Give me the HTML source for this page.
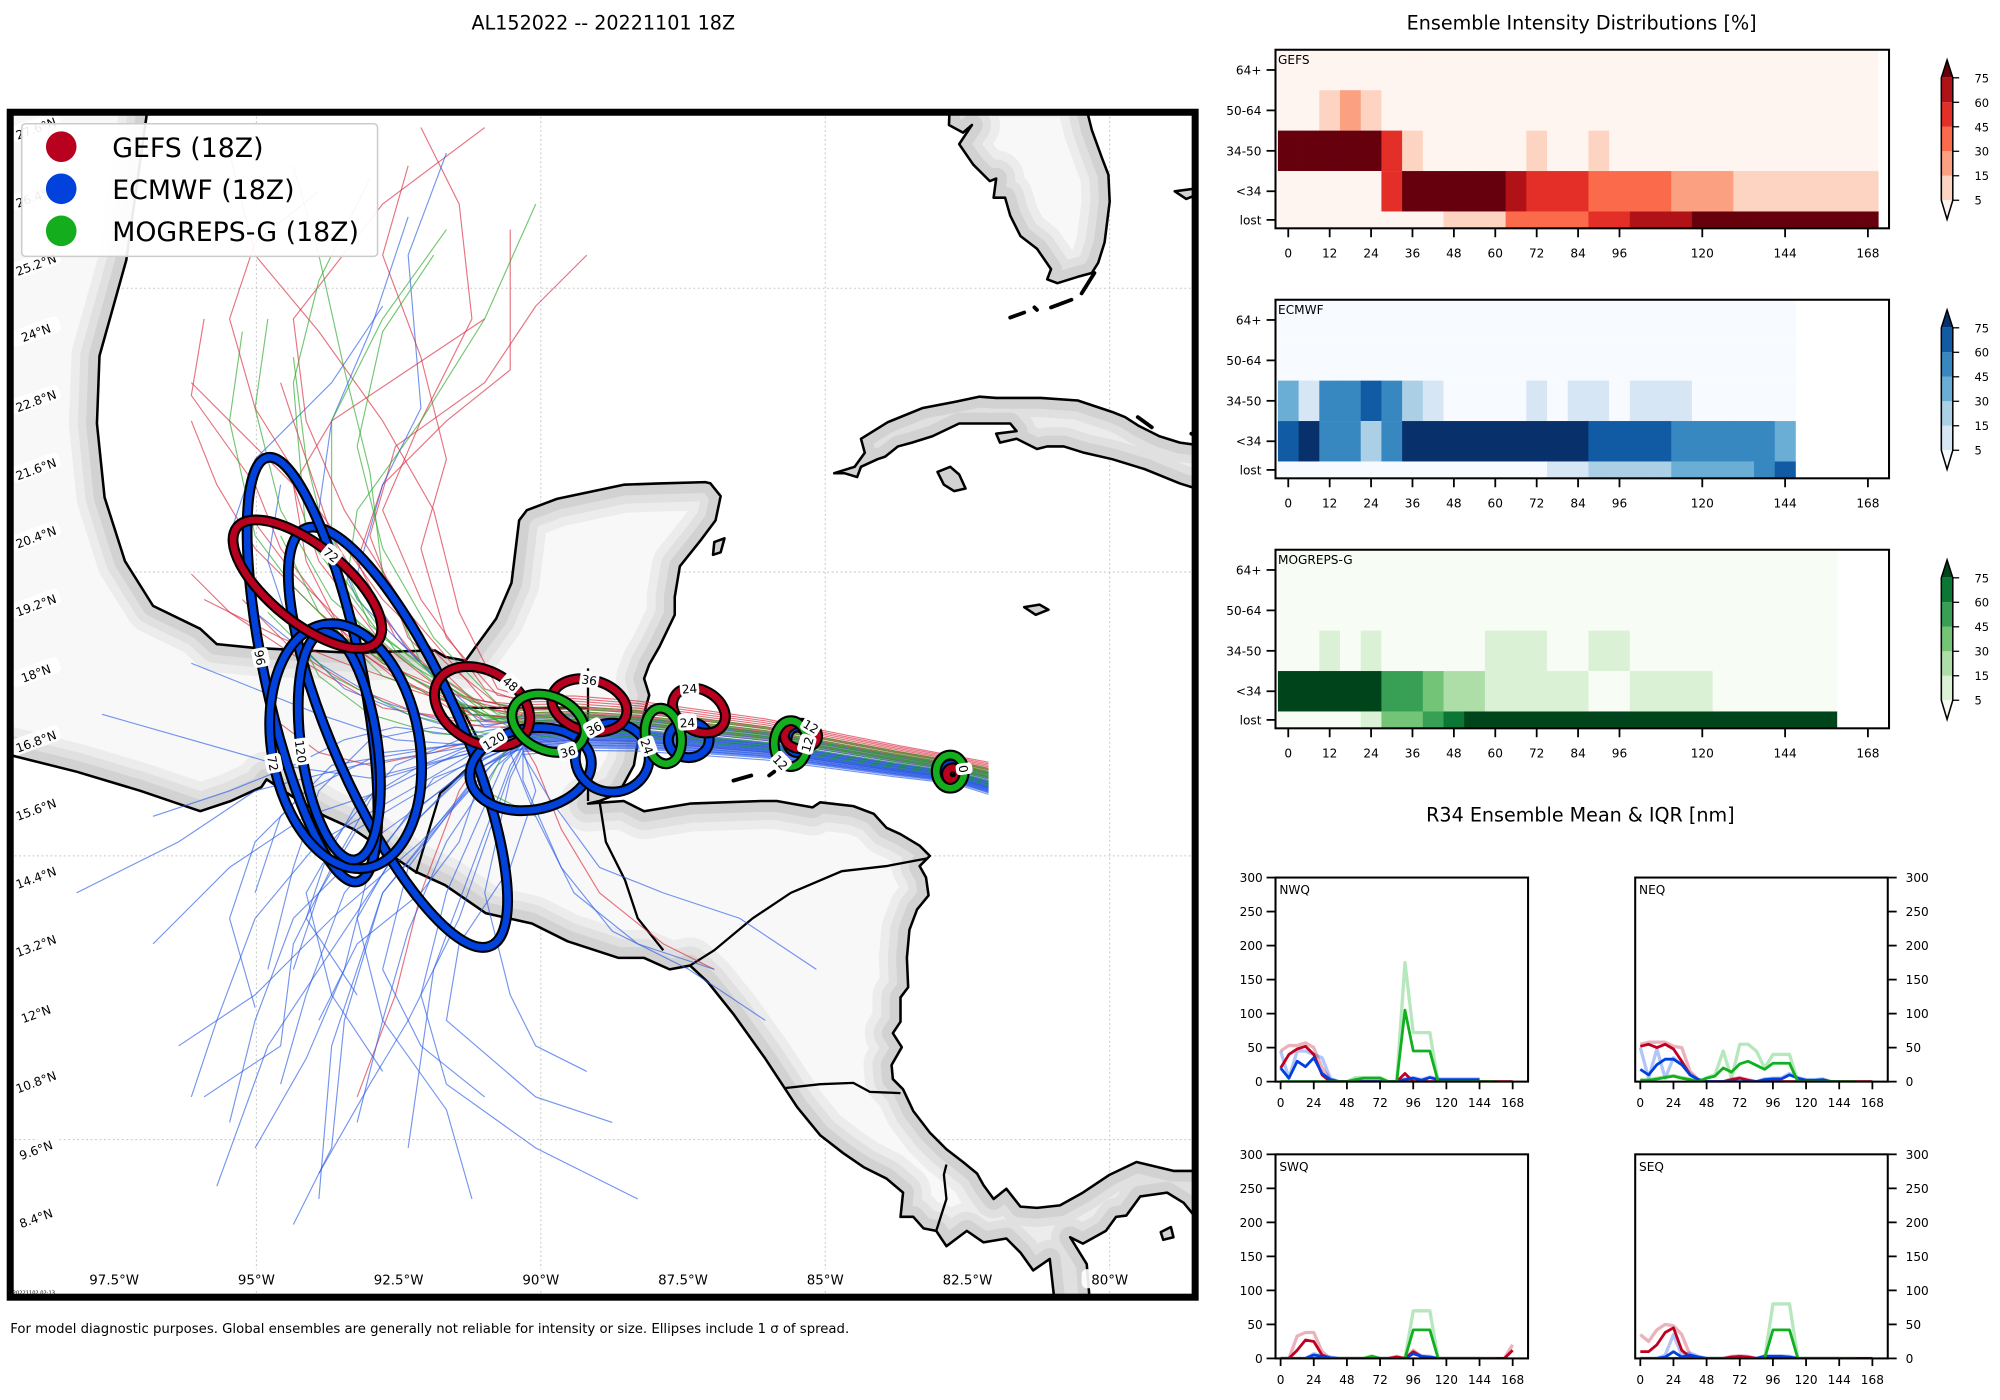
<!DOCTYPE html>
<html><head><meta charset="utf-8">
<style>
html,body{margin:0;padding:0;background:#fff;}
svg{display:block;}
text{font-family:"DejaVu Sans","Liberation Sans",sans-serif;}
</style></head>
<body>
<svg id="fig" width="2000" height="1400" viewBox="0 0 1568 1097.6" xmlns="http://www.w3.org/2000/svg">
<defs><clipPath id="mapclip"><rect x="8" y="88" width="929" height="929"/></clipPath></defs>
<rect x="0" y="0" width="1568" height="1097.6" fill="#fff"/>
<text x="473" y="23" font-size="15" text-anchor="middle">AL152022 -- 20221101 18Z</text>
<text x="1240" y="23" font-size="15" text-anchor="middle">Ensemble Intensity Distributions [%]</text>
<text x="1239" y="644" font-size="15" text-anchor="middle">R34 Ensemble Mean &amp; IQR [nm]</text>
<text x="8" y="1045" font-size="10.4">For model diagnostic purposes. Global ensembles are generally not reliable for intensity or size. Ellipses include 1 σ of spread.</text>
<g id="map"></g>
<g id="right"></g>
</svg>
<script>
// ---------------- DATA ----------------
const heatHours = [0,6,12,18,24,30,36,42,48,54,60,66,72,78,84,90,96,102,108,114,120,126,132,138,144,150,156,162,168];
const heatRowLabels = ['64+','50-64','34-50','<34','lost'];
const heatTickHours = [0,12,24,36,48,60,72,84,96,120,144,168];
const cbLevels = [5,15,30,45,60,75];
const gefs64 = [0,0,0,0,0,0,0,0,0,0,0,0,0,0,0,0,0,0,0,0,0,0,0,0,0,0,0,0,0];
const gefs50 = [0,0,10,20,10,0,0,0,0,0,0,0,0,0,0,0,0,0,0,0,0,0,0,0,0,0,0,0,0];
const gefs34 = [85,85,85,85,85,52,10,0,0,0,0,0,10,0,0,10,0,0,0,0,0,0,0,0,0,0,0,0,0];
const gefsLt = [0,0,0,0,0,52,85,85,85,85,85,68,52,52,52,38,38,38,38,20,20,20,10,10,10,10,10,10,10];
const gefsLost = [0,0,0,0,0,0,0,0,10,10,10,38,38,38,38,52,52,68,68,68,85,85,85,85,85,85,85,85,85];
const ecmwf64 = [0,0,0,0,0,0,0,0,0,0,0,0,0,0,0,0,0,0,0,0,0,0,0,0,0];
const ecmwf50 = [0,0,0,0,0,0,0,0,0,0,0,0,0,0,0,0,0,0,0,0,0,0,0,0,0];
const ecmwf34 = [38,10,52,52,68,52,20,10,0,0,0,0,10,0,10,10,0,10,10,10,0,0,0,0,0];
const ecmwfLt = [68,85,52,52,20,52,85,85,85,85,85,85,85,85,85,68,68,68,68,52,52,52,52,52,38];
const ecmwfLost = [0,0,0,0,0,0,0,0,0,0,0,0,0,10,10,20,20,20,20,38,38,38,38,52,68];
const mog64 = [0,0,0,0,0,0,0,0,0,0,0,0,0,0,0,0,0,0,0,0,0,0,0,0,0,0,0];
const mog50 = [0,0,0,0,0,0,0,0,0,0,0,0,0,0,0,0,0,0,0,0,0,0,0,0,0,0,0];
const mog34 = [0,0,10,0,10,0,0,0,0,0,10,10,10,0,0,10,10,0,0,0,0,0,0,0,0,0,0];
const mogLt = [85,85,85,85,85,52,52,38,20,20,10,10,10,10,10,0,0,10,10,10,10,0,0,0,0,0,0];
const mogLost = [0,0,0,0,10,38,38,52,68,85,85,85,85,85,85,85,85,85,85,85,85,85,85,85,85,85,85];

const r34Hours = heatHours;
const r34Ticks = [0,24,48,72,96,120,144,168];
const r34YTicks = [0,50,100,150,200,250,300];
const n=null;
const nwGefsMean=[20,40,48,52,40,10,0,0,0,0,0,0,0,0,0,12,0,0,0,0,0,0,0,0,0,0,0,0,0];
const nwGefsIqr =[45,53,53,57,50,20,3,0,0,0,0,0,0,0,0,3,0,0,0,0,0,0,0,0,0,0,0,0,0];
const nwEcMean  =[20,5,30,22,35,12,3,0,0,0,0,0,0,0,0,3,5,2,6,3,3,3,3,3,3,n,n,n,n];
const nwEcIqr   =[45,5,45,45,40,35,5,0,0,0,0,0,0,0,0,4,6,3,7,4,4,4,4,4,4,n,n,n,n];
const nwMoMean  =[0,0,0,0,0,0,0,0,0,3,5,5,5,0,0,105,45,45,45,0,0,0,0,0,0,0,0,n,n];
const nwMoIqr   =[0,0,0,0,0,0,0,0,0,6,6,6,6,0,0,175,72,72,72,0,0,0,0,0,0,0,0,n,n];
const neGefsMean=[52,55,50,55,48,30,10,3,0,0,0,3,5,2,0,0,0,0,0,0,0,0,0,0,0,0,0,0,0];
const neGefsIqr =[55,58,58,58,52,50,15,3,0,0,0,4,6,3,0,0,0,0,0,0,0,0,0,0,0,0,0,0,0];
const neEcMean  =[18,10,25,33,33,25,10,3,0,0,0,0,0,0,0,3,4,4,10,5,2,2,3,0,0,n,n,n,n];
const neEcIqr   =[50,5,48,5,35,25,12,3,0,0,0,0,0,0,0,4,5,5,12,6,3,3,4,0,0,n,n,n,n];
const neMoMean  =[2,2,4,6,8,5,3,0,5,8,20,14,26,30,24,18,27,27,27,0,0,0,0,0,0,0,0,n,n];
const neMoIqr   =[3,3,5,7,9,6,4,0,6,10,45,5,55,55,45,20,40,40,40,0,0,0,0,0,0,0,0,n,n];
const swGefsMean=[0,0,12,27,25,5,0,0,0,0,0,0,0,0,2,0,10,2,0,0,0,0,0,0,0,0,0,0,12];
const swGefsIqr =[0,0,33,38,38,10,0,0,0,0,0,0,0,0,3,0,12,3,0,0,0,0,0,0,0,0,0,0,20];
const swEcMean  =[0,0,0,0,5,3,1,0,0,0,0,0,0,0,0,0,7,3,2,0,0,0,0,0,0,n,n,n,n];
const swEcIqr   =[0,0,0,0,7,4,2,0,0,0,0,0,0,0,0,0,9,4,3,0,0,0,0,0,0,n,n,n,n];
const swMoMean  =[0,0,0,0,0,0,0,0,0,0,0,3,0,0,0,0,42,42,42,0,0,0,0,0,0,0,0,n,n];
const swMoIqr   =[0,0,0,0,0,0,0,0,0,0,0,4,0,0,0,0,70,70,70,0,0,0,0,0,0,0,0,n,n];
const seGefsMean=[10,10,20,38,45,12,2,0,0,0,0,2,3,2,0,0,0,0,0,0,0,0,0,0,0,0,0,0,0];
const seGefsIqr =[35,25,42,50,48,35,5,0,0,0,0,3,4,3,0,0,0,0,0,0,0,0,0,0,0,0,0,0,0];
const seEcMean  =[0,0,0,2,10,2,5,2,0,0,0,0,0,0,0,3,3,3,2,0,0,0,0,0,0,n,n,n,n];
const seEcIqr   =[0,0,0,5,35,5,8,3,0,0,0,0,0,0,0,4,4,4,3,0,0,0,0,0,0,n,n,n,n];
const seMoMean  =[0,0,0,0,0,0,0,0,0,0,0,0,0,0,0,0,42,42,42,0,0,0,0,0,0,0,0,n,n];
const seMoIqr   =[0,0,0,0,0,0,0,0,0,0,0,0,0,0,0,0,80,80,80,0,0,0,0,0,0,0,0,n,n];

const gefsEllipses = [[241,458,71,30,39,'72',-90],[378,554,40,28,30,'48',-75],[462,553,30,20,15,'36',-100],[548,557,22,16,30,'24',-134],[628,577,13,10,0,'12',-52],[747,607,5,5,0,'',0]];
const ecmwfEllipses = [[312,578,50,179,-24,'',0],[245,525,38,170,-12,'96',186],[271,585,58,97,-10,'72',178],[266,585,30,90,-8,'120',180],[416,603,48,32,-10,'120',-121],[480,594,29,27,0,'36',-120],[540,580,16,14,0,'24',-94],[625,580,8,10,0,'12',20],[746,605,6,6,0,'',0]];
const mogEllipses = [[430,567,30,21,25,'36',40],[520,577,14,22,-10,'24',165],[620,583,13,18,0,'12',127],[745,605,11,13,0,'0',-10]];

const trunkX=[748,700,650,600,550,500,450,410];
const trunkY=[605,598,590,582,577,572,570,572];
const redTracks=[[-8,[[370,560],[320,530],[270,490],[230,450],[200,410]]],[-10,[[380,555],[330,520],[290,470],[260,420],[240,360],[220,300]]],[-12,[[370,550],[300,520],[250,480],[200,430],[170,380],[150,330]]],[-6,[[380,560],[320,540],[270,500],[240,440],[230,380],[260,330],[320,290],[380,250]]],[-14,[[360,545],[310,500],[280,440],[300,380],[350,330],[400,290],[400,180]]],[-2,[[380,570],[330,560],[280,540],[230,510],[190,470]]],[-4,[[370,565],[300,555],[240,520],[180,480],[150,450]]],[-16,[[400,560],[350,520],[300,470],[250,400],[200,320],[180,250],[200,190],[250,150]]],[-18,[[380,550],[320,480],[270,400],[240,330],[230,250],[300,160],[380,100]]],[4,[[390,575],[340,590],[290,600],[250,590],[210,560]]],[10,[[420,600],[440,650],[470,700],[520,740],[560,760]]],[-9,[[360,560],[280,510],[220,430],[200,380],[150,310],[160,250]]],[-20,[[380,540],[330,470],[300,400],[330,330],[370,250],[360,160],[330,100]]],[-24,[[390,540],[360,480],[340,400],[300,330],[250,260],[200,200],[180,120]]],[-15,[[370,548],[320,500],[290,420],[310,350],[380,300],[420,240],[460,200]]],[-11,[[360,552],[300,505],[250,440],[230,380],[180,330],[150,300]]],[-5,[[380,565],[330,540],[270,520],[220,500],[160,470]]],[-22,[[390,545],[350,500],[330,430],[350,360],[330,280],[300,200],[320,130]]],[2,[[390,575],[360,620],[330,700],[310,780],[280,860]]]];
const blueTracks=[[6,[[380,590],[330,620],[280,650],[250,700],[230,760]]],[8,[[370,600],[320,640],[270,700],[240,780],[220,850]]],[2,[[380,580],[320,590],[260,600],[220,640],[200,700]]],[10,[[390,600],[350,660],[320,730],[300,800],[280,880]]],[0,[[380,585],[310,580],[250,560],[200,540],[150,520]]],[5,[[360,590],[300,620],[240,640],[180,680],[120,740]]],[12,[[400,600],[370,680],[340,760],[330,830],[320,900]]],[-4,[[370,575],[320,560],[270,540],[230,500],[210,440],[220,380]]],[7,[[380,595],[290,660],[230,720],[200,800],[180,880]]],[14,[[400,590],[420,640],[450,700],[500,740],[560,760]]],[3,[[380,580],[330,600],[280,630],[240,700],[260,780],[300,840]]],[9,[[390,590],[340,610],[290,680],[270,760],[240,830],[200,900]]],[-6,[[360,570],[300,550],[250,520],[200,480],[180,420],[200,360],[260,300],[300,240]]],[11,[[380,600],[360,660],[330,700],[280,740],[250,800]]],[16,[[400,610],[380,700],[400,780],[420,820],[460,840]]],[4,[[370,590],[300,610],[260,680],[230,740],[220,820],[160,860]]],[1,[[390,580],[340,570],[290,580],[250,620],[230,680],[210,760]]],[13,[[380,600],[320,680],[300,760],[330,820],[380,860]]],[2,[[360,580],[310,600],[260,660],[240,720],[280,780]]],[-8,[[380,570],[320,510],[280,450],[300,380],[330,320],[320,200],[350,120]]],[6,[[370,585],[280,600],[200,620],[140,660],[60,700]]],[8,[[380,600],[300,700],[260,820],[250,940]]],[3,[[370,590],[290,610],[220,600],[150,580],[80,560]]],[15,[[420,620],[400,680],[360,740],[350,800],[420,860],[480,880]]],[18,[[430,625],[470,680],[520,700],[580,720],[640,760]]],[7,[[390,595],[350,640],[300,700],[270,800],[260,900],[230,960]]],[9,[[385,600],[330,660],[260,720],[200,780],[140,820]]],[4,[[375,588],[320,620],[250,660],[200,720],[170,800],[150,860]]],[12,[[400,605],[360,720],[320,800],[290,850],[250,920]]],[1,[[380,582],[300,590],[240,620],[200,660],[180,720],[200,790]]],[-2,[[370,578],[310,570],[270,580],[230,600],[180,620],[120,640]]],[10,[[395,598],[350,700],[330,780],[350,850],[420,900],[500,940]]],[5,[[380,592],[330,640],[290,700],[250,760],[210,820],[170,930]]],[-10,[[380,565],[330,520],[280,470],[250,400],[260,330],[290,260],[320,170]]],[14,[[410,612],[440,680],[480,730],[540,760],[600,800]]],[6,[[375,594],[320,650],[280,720],[300,800],[350,870],[370,940]]]];
const greenTracks=[[-7,[[380,555],[320,520],[260,470],[220,400],[200,320],[210,250]]],[-9,[[370,560],[310,510],[260,440],[240,360],[230,280]]],[-5,[[390,565],[340,530],[290,490],[260,420],[260,330],[300,250],[350,180]]],[-3,[[380,560],[300,530],[250,480],[220,420]]],[-12,[[400,570],[350,545],[300,520],[270,470],[280,400],[330,330],[380,250],[420,160]]],[0,[[380,575],[320,560],[260,530],[210,480]]],[-10,[[370,565],[330,520],[300,450],[290,370],[270,290],[250,200],[230,130]]],[6,[[400,580],[380,620],[420,640]]],[-14,[[390,560],[300,500],[240,420],[230,300],[250,220],[290,140]]],[-6,[[380,562],[320,530],[270,500],[230,460],[200,420],[180,330],[190,260]]],[-16,[[390,552],[340,500],[300,430],[280,350],[300,260],[340,200]]],[3,[[390,578],[340,575],[290,560],[250,530],[230,490]]]];

const mainland=[[-30,60],[120,60],[115,90],[99,204],[78,279],[76,332],[82,390],[98,440],[120,475],[157,493],[170,505],[200,508],[240,510],[280,512],[301,511],[341,510],[349,515],[365,518],[373,507],[389,485],[401,457],[407,408],[413,400],[437,391],[489,380],[517,379],[553,378],[557,379],[565,389],[561,408],[549,424],[533,444],[529,468],[529,482],[517,507],[509,521],[505,532],[509,545],[502,570],[497,600],[485,622],[470,628],[461,630],[489,628],[505,636],[541,630],[597,628],[609,628],[637,633],[643,629],[669,632],[685,638],[695,649],[706,654],[721,663],[729,671],[721,679],[726,688],[728,702],[719,713],[713,729],[711,751],[712,774],[706,782],[706,801],[700,810],[707,821],[699,835],[700,846],[708,854],[716,871],[729,888],[742,901],[755,911],[766,920],[771,929],[779,940],[789,932],[800,946],[813,947],[831,945],[849,935],[870,921],[891,911],[920,918],[960,918],[960,954],[937,954],[928,943],[915,935],[894,938],[883,953],[875,954],[867,965],[849,975],[839,970],[852,991],[856,1040],[829,1040],[823,987],[810,996],[800,982],[789,971],[771,974],[758,965],[742,977],[734,965],[724,963],[716,954],[706,954],[708,935],[695,924],[677,915],[661,904],[643,890],[625,868],[600,830],[575,795],[555,770],[541,757],[525,760],[505,751],[485,751],[445,738],[417,724],[381,716],[349,694],[325,683],[293,661],[277,650],[255,640],[230,625],[209,611],[205,617],[181,628],[157,636],[110,620],[60,605],[8,592],[-30,590]];
const cuba=[[654,371],[670,366],[678,355],[675,344],[696,331],[723,320],[749,315],[768,311],[781,312],[816,312],[845,314],[872,323],[882,327],[893,334],[909,342],[925,347],[960,352],[960,390],[925,379],[898,368],[872,360],[850,355],[834,350],[821,350],[813,352],[797,344],[784,347],[781,340],[797,338],[792,332],[752,332],[731,342],[715,347],[704,350],[694,358],[688,360],[675,366],[672,374],[662,371]];
const florida=[[745,70],[744,98],[755,104],[762,98],[752,113],[763,129],[776,142],[781,140],[779,155],[788,155],[792,169],[800,185],[813,195],[824,211],[821,219],[829,222],[845,217],[856,214],[861,206],[866,190],[870,158],[869,137],[864,124],[856,102],[848,70]];
const islands=[[[735,370],[745,366],[752,372],[757,383],[748,385],[740,380]],[[803,476],[815,474],[822,478],[812,482]],[[560,425],[568,422],[565,433],[559,435]],[[921,150],[930,156],[940,152],[945,146],[936,148]],[[910,966],[918,962],[920,970],[912,972]]];
const borders=[[[461,524],[461,628]],[[461,555],[362,555],[380,590],[345,622],[326,685]],[[470,628],[475,660],[490,690],[500,720],[520,745]],[[727,673],[695,679],[660,683],[620,700],[590,720],[560,745],[541,757]],[[706,857],[682,856],[669,849],[643,850],[616,853]],[[742,913],[740,921],[742,940],[734,965]]];
const keysDashes=[[[792,249],[803,245]],[[811,241],[813,243]],[[824,241],[840,235]],[[848,230],[858,214]],[[892,327],[903,335]],[[934,340],[942,343]],[[575,612],[589,608]],[[603,608],[607,605]]];

const latLabels=['27.6°N','26.4°N','25.2°N','24°N','22.8°N','21.6°N','20.4°N','19.2°N','18°N','16.8°N','15.6°N','14.4°N','13.2°N','12°N','10.8°N','9.6°N','8.4°N'];
const lonLabels=['97.5°W','95°W','92.5°W','90°W','87.5°W','85°W','82.5°W','80°W'];
const lonValues=[-97.5,-95,-92.5,-90,-87.5,-85,-82.5,-80];

// ---------------- HELPERS ----------------
const NS='http://www.w3.org/2000/svg';
function mk(tag,attrs,parent){const e=document.createElementNS(NS,tag);for(const k in attrs)e.setAttribute(k,attrs[k]);parent.appendChild(e);return e;}
function txt(str,attrs,parent){const e=mk('text',attrs,parent);e.textContent=str;return e;}
function ptsStr(p){return p.map(q=>q[0]+','+q[1]).join(' ');}
const lonX=lon=>424+(lon+90)*44.6;

// ---------------- MAP ----------------
const mapG=document.getElementById('map');
const defs=document.querySelector('defs');
const inner=mk('g',{'clip-path':'url(#mapclip)'},mapG);


lonValues.filter(v=>v%5===0).forEach(v=>{
  const l=mk('line',{x1:lonX(v),x2:lonX(v),y1:88,y2:1017,stroke:'#c8c8c8','stroke-width':0.8,'stroke-dasharray':'1.5,2'},inner);
  
  
});
[226,448.5,671,893.5].forEach(y=>{
  const l=mk('line',{x1:8,x2:937,y1:y,y2:y,stroke:'#c8c8c8','stroke-width':0.8,'stroke-dasharray':'1.5,2'},inner);
  
  
});
const lands=[mainland,cuba,florida].concat(islands);
lands.forEach((poly,i)=>{
  const cp=mk('clipPath',{id:'lc'+i},defs);
  mk('polygon',{points:ptsStr(poly)},cp);
  const lg=mk('g',{'clip-path':'url(#lc'+i+')'},inner);
  
  
  mk('polygon',{points:ptsStr(poly),fill:'#f8f8f8'},lg);
  mk('polygon',{points:ptsStr(poly),fill:'none',stroke:'#ececec','stroke-width':44,'stroke-linejoin':'round'},lg);
  mk('polygon',{points:ptsStr(poly),fill:'none',stroke:'#e0e0e0','stroke-width':30,'stroke-linejoin':'round'},lg);
  mk('polygon',{points:ptsStr(poly),fill:'none',stroke:'#d2d2d2','stroke-width':17,'stroke-linejoin':'round'},lg);
  const c=mk('polygon',{points:ptsStr(poly),fill:'none',stroke:'#000','stroke-width':2,'stroke-linejoin':'round'},inner);
  
  
});
borders.forEach(b=>{
  const l=mk('polyline',{points:ptsStr(b),fill:'none',stroke:'#000','stroke-width':1.8},inner);
  
  
});
keysDashes.forEach(b=>{
  const l=mk('polyline',{points:ptsStr(b),fill:'none',stroke:'#000','stroke-width':3,'stroke-linecap':'round'},inner);
  
  
});
function drawTracks(list,color,name){
  list.forEach(tr=>{
    const dy=tr[0];
    const pts=trunkX.map((x,i)=>[x,trunkY[i]+dy*(0.5+0.5*(760-x)/300)]);
    const all=[[775,612+dy*0.6]].concat(pts).concat(tr[1]);
    const l=mk('polyline',{points:ptsStr(all),fill:'none',stroke:color,'stroke-width':0.9,'stroke-opacity':0.65},inner);
    
    
  });
}
drawTracks(redTracks,'#d8283c','gefs-member-track');
drawTracks(blueTracks,'#2a5be6','ecmwf-member-track');
drawTracks(greenTracks,'#2aa82a','mogreps-member-track');
function drawEllipses(list,color,name){
  list.forEach(e=>{
    const [cx,cy,rx,ry,rot]=e;
    const g=mk('g',{transform:`rotate(${rot} ${cx} ${cy})`},inner);
    
    
    mk('ellipse',{cx,cy,rx,ry,fill:'none',stroke:'#000','stroke-width':8.5},g);
    mk('ellipse',{cx,cy,rx,ry,fill:'none',stroke:color,'stroke-width':5.2},g);
  });
}
function drawLabels(list,name){
  list.forEach(e=>{
    const [cx,cy,rx,ry,rot,lab,ad]=e;
    if(!lab)return;
    const a=ad*Math.PI/180, r=rot*Math.PI/180;
    const px=rx*Math.cos(a), py=ry*Math.sin(a);
    const x=cx+px*Math.cos(r)-py*Math.sin(r), y=cy+px*Math.sin(r)+py*Math.cos(r);
    let ang=Math.atan2(ry*Math.cos(a),-rx*Math.sin(a))*180/Math.PI+rot;
    while(ang>90)ang-=180; while(ang<-90)ang+=180;
    const g=mk('g',{transform:`translate(${x} ${y}) rotate(${ang})`},inner);
    
    
    const w=lab.length*6+3;
    mk('rect',{x:-w/2,y:-6.5,width:w,height:13,rx:3,fill:'#fff'},g);
    txt(lab,{x:0,y:4,'font-size':9.5,'text-anchor':'middle'},g);
  });
}
drawEllipses(ecmwfEllipses,'#0042db','ecmwf-ellipse');
drawEllipses(gefsEllipses,'#b8001f','gefs-ellipse');
drawEllipses(mogEllipses,'#14ad1e','mogreps-ellipse');
drawLabels(ecmwfEllipses,'ecmwf-ellipse-label');
drawLabels(gefsEllipses,'gefs-ellipse-label');
drawLabels(mogEllipses,'mogreps-ellipse-label');
latLabels.forEach((s,i)=>{
  const lat=parseFloat(s);
  const y=207+(25.2-lat)*44.5;
  const g=mk('g',{transform:`translate(28 ${y}) rotate(-20)`},inner);
  
  
  mk('rect',{x:-20,y:-7,width:40,height:13,rx:4,fill:'#fff','fill-opacity':0.9},g);
  txt(s,{x:0,y:4,'font-size':9.5,'text-anchor':'middle'},g);
});
lonLabels.forEach((s,i)=>{
  const x=lonX(lonValues[i]);
  const r=mk('rect',{x:x-22,y:995,width:44,height:15,rx:4,fill:'#fff','fill-opacity':0.9},inner);
  
  
  const t=txt(s,{x:x,y:1007,'font-size':10.5,'text-anchor':'middle'},inner);
  
  
});
const ts=txt('20221102 02:13',{x:10,y:1015,'font-size':4},inner);


const leg=mk('g',{},inner);


mk('rect',{x:17,y:97,width:279,height:104,rx:3,fill:'#fff','fill-opacity':0.92,stroke:'#ccc','stroke-width':1.2},leg);
[['GEFS (18Z)','#b8001f'],['ECMWF (18Z)','#0042db'],['MOGREPS-G (18Z)','#14ad1e']].forEach((it,i)=>{
  const g=mk('g',{},leg);
  
  
  mk('circle',{cx:48,cy:115+i*33,r:12,fill:it[1]},g);
  txt(it[0],{x:88,y:123+i*33,'font-size':21},g);
});
const frame=mk('rect',{x:8,y:88,width:929,height:929,fill:'none',stroke:'#000','stroke-width':5.5},mapG);



// ---------------- HEATMAPS ----------------
const right=document.getElementById('right');
const Reds=['#fff5f0','#fdd4c2','#fca082','#fb6a4a','#e32f27','#b11218','#67000d'];
const Blues=['#f7fbff','#d6e6f4','#abd0e6','#6aaed6','#3787c0','#105ba4','#08306b'];
const Greens=['#f7fcf5','#dbf1d6','#aedea7','#73c476','#37a055','#0b7734','#00441b'];
function level(v){let l=0;cbLevels.forEach((t,i)=>{if(v>=t)l=i+1;});return l;}
const hx=t=>1010+2.705*t;
function heatPanel(top,rowsData,cmap,label,key){
  const g=mk('g',{},right);
  
  
  const rowH=31.7;
  rowsData.forEach((arr,r)=>{
    const y0=top+r*rowH, y1=Math.min(top+(r+1)*rowH,top+140);
    arr.forEach((v,k)=>{
      const t=heatHours[k];
      const c=mk('rect',{x:hx(t)-8.12,y:y0,width:16.5,height:y1-y0,fill:cmap[level(v)]},g);
      
      
    });
  });
  mk('rect',{x:1000,y:top,width:481,height:140,fill:'none',stroke:'#000','stroke-width':1.6},g);
  txt(label,{x:1002,y:top+11,'font-size':9.5},g);
  heatRowLabels.forEach((s,r)=>{
    const yc=r<4?top+r*rowH+rowH/2:top+4*rowH+(140-4*rowH)/2;
    mk('line',{x1:993,x2:1000,y1:yc,y2:yc,stroke:'#000','stroke-width':1.4},g);
    const t=txt(s,{x:989,y:yc+3.5,'font-size':9.5,'text-anchor':'end'},g);
    
    
  });
  heatTickHours.forEach(t=>{
    mk('line',{x1:hx(t),x2:hx(t),y1:top+140,y2:top+147,stroke:'#000','stroke-width':1.4},g);
    const tt=txt(String(t),{x:hx(t),y:top+163,'font-size':9.5,'text-anchor':'middle'},g);
    
    
  });
  const cb=mk('g',{},g);
  
  
  const cy=v=>top+118-(cbLevels.indexOf(v))*(96/5);
  mk('polygon',{points:`1522,${top+22} 1531,${top+22} 1526.5,${top+8}`,fill:cmap[6]},cb);
  for(let i=0;i<5;i++){mk('rect',{x:1522,y:cy(cbLevels[i+1]),width:9,height:96/5,fill:cmap[i+1]},cb);}
  mk('polygon',{points:`1522,${top+118} 1531,${top+118} 1526.5,${top+133}`,fill:cmap[0]},cb);
  mk('polygon',{points:`1522,${top+22} 1526.5,${top+8} 1531,${top+22} 1531,${top+118} 1526.5,${top+133} 1522,${top+118}`,fill:'none',stroke:'#000','stroke-width':1.2},cb);
  cbLevels.forEach(v=>{
    mk('line',{x1:1531,x2:1536,y1:cy(v),y2:cy(v),stroke:'#000','stroke-width':1},cb);
    txt(String(v),{x:1548,y:cy(v)+3.5,'font-size':9},cb);
  });
}
heatPanel(39,[gefs64,gefs50,gefs34,gefsLt,gefsLost],Reds,'GEFS','gefs');
heatPanel(235,[ecmwf64,ecmwf50,ecmwf34,ecmwfLt,ecmwfLost],Blues,'ECMWF','ecmwf');
heatPanel(431,[mog64,mog50,mog34,mogLt,mogLost],Greens,'MOGREPS-G','mogreps');

// ---------------- R34 PANELS ----------------
function r34Panel(x0,y0,label,rightAxis,series){
  const g=mk('g',{},right);
  
  
  const X=t=>x0+4+1.083*t, Y=v=>y0+160-v*0.5333;
  const cp=mk('clipPath',{id:'cp'+label},defs);
  mk('rect',{x:x0,y:y0,width:198,height:160},cp);
  const pg=mk('g',{'clip-path':'url(#cp'+label+')'},g);
  series.forEach(s=>{
    let d='',pen=false;
    s.data.forEach((v,i)=>{
      if(v===null){pen=false;return;}
      d+=(pen?'L':'M')+X(r34Hours[i]).toFixed(1)+','+Y(v).toFixed(1);pen=true;
    });
    const p=mk('path',{d,fill:'none',stroke:s.color,'stroke-width':s.w,'stroke-opacity':s.op,'stroke-linejoin':'round'},pg);
    
    
  });
  mk('rect',{x:x0,y:y0,width:198,height:160,fill:'none',stroke:'#000','stroke-width':1.6},g);
  txt(label,{x:x0+3,y:y0+13,'font-size':9.5},g);
  r34Ticks.forEach(t=>{
    mk('line',{x1:X(t),x2:X(t),y1:y0+160,y2:y0+166,stroke:'#000','stroke-width':1.4},g);
    const tt=txt(String(t),{x:X(t),y:y0+180,'font-size':9.5,'text-anchor':'middle'},g);
    
    
  });
  r34YTicks.forEach(v=>{
    if(rightAxis){
      mk('line',{x1:x0+198,x2:x0+205,y1:Y(v),y2:Y(v),stroke:'#000','stroke-width':1.4},g);
      txt(String(v),{x:x0+212,y:Y(v)+3.5,'font-size':9.5},g);
    }else{
      mk('line',{x1:x0-7,x2:x0,y1:Y(v),y2:Y(v),stroke:'#000','stroke-width':1.4},g);
      txt(String(v),{x:x0-10,y:Y(v)+3.5,'font-size':9.5,'text-anchor':'end'},g);
    }
  });
}
function ser(gm,gi,em,ei,mm,mi){return [
  {data:gi,color:'#c00020',w:2.6,op:0.3,name:'gefs-iqr-line'},
  {data:ei,color:'#0040e0',w:2.6,op:0.3,name:'ecmwf-iqr-line'},
  {data:mi,color:'#10b020',w:2.6,op:0.3,name:'mogreps-iqr-line'},
  {data:gm,color:'#c00020',w:2.2,op:1,name:'gefs-mean-line'},
  {data:em,color:'#0040e0',w:2.2,op:1,name:'ecmwf-mean-line'},
  {data:mm,color:'#10b020',w:2.2,op:1,name:'mogreps-mean-line'}];}
r34Panel(1000,688,'NWQ',false,ser(nwGefsMean,nwGefsIqr,nwEcMean,nwEcIqr,nwMoMean,nwMoIqr));
r34Panel(1282,688,'NEQ',true,ser(neGefsMean,neGefsIqr,neEcMean,neEcIqr,neMoMean,neMoIqr));
r34Panel(1000,905,'SWQ',false,ser(swGefsMean,swGefsIqr,swEcMean,swEcIqr,swMoMean,swMoIqr));
r34Panel(1282,905,'SEQ',true,ser(seGefsMean,seGefsIqr,seEcMean,seEcIqr,seMoMean,seMoIqr));
</script>
</body></html>
